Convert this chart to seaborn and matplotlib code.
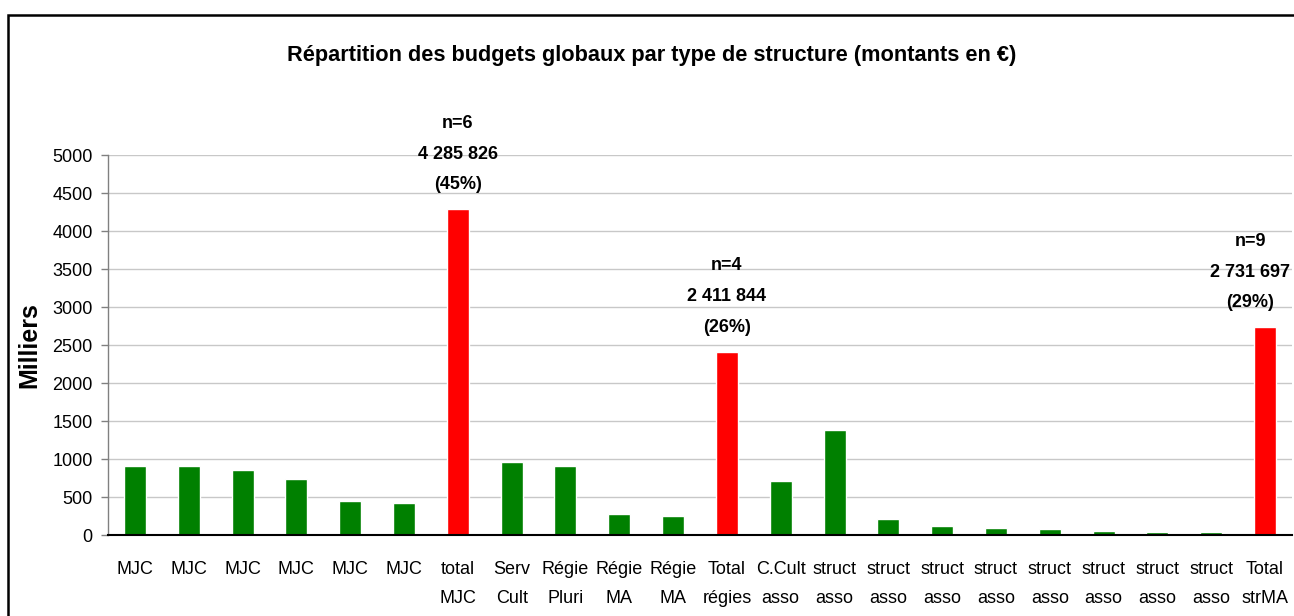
import matplotlib
matplotlib.use("Agg")
import matplotlib.pyplot as plt
import seaborn as sns
import pandas as pd
from matplotlib.patches import Rectangle

# ---- data (thousands of €) ----
labels = ["MJC", "MJC", "MJC", "MJC", "MJC", "MJC", "total\nMJC",
          "Serv\nCult", "Régie\nPluri", "Régie\nMA", "Régie\nMA", "Total\nrégies",
          "C.Cult\nasso", "struct\nasso", "struct\nasso", "struct\nasso", "struct\nasso",
          "struct\nasso", "struct\nasso", "struct\nasso", "struct\nasso", "Total\nstrMA"]
values = [912, 912, 860, 741, 452, 425, 4285.826,
          965, 912, 281, 254, 2411.844,
          715, 1380, 205, 125, 97, 84, 58, 38, 36, 2731.697]
kinds = ["detail"] * 6 + ["total"] + ["detail"] * 4 + ["total"] + ["detail"] * 9 + ["total"]
total_notes = {6: "n=6\n4 285 826\n(45%)",
               11: "n=4\n2 411 844\n(26%)",
               21: "n=9\n2 731 697\n(29%)"}
yticks = [0, 500, 1000, 1500, 2000, 2500, 3000, 3500, 4000, 4500, 5000]

df = pd.DataFrame({"pos": list(range(len(labels))), "value": values, "kind": kinds})

sns.set_theme(style="white")
plt.rcParams["font.family"] = ["Liberation Sans", "DejaVu Sans"]
plt.rcParams["text.color"] = "black"
plt.rcParams["axes.labelcolor"] = "black"
plt.rcParams["xtick.color"] = "black"
plt.rcParams["ytick.color"] = "black"

fig = plt.figure(figsize=(12.94, 6.16), dpi=100)
ax = fig.add_axes([108 / 1294, 1 - 535 / 616, 1184 / 1294, 380 / 616])

sns.barplot(data=df, x="pos", y="value", hue="kind",
            palette={"detail": "#008000", "total": "#FF0000"},
            dodge=False, width=0.41, legend=False, ax=ax, saturation=1)

ax.set_xlim(-0.5, len(labels) - 0.5)
ax.set_ylim(0, 5000)
ax.set_yticks(yticks)
ax.set_yticklabels([str(t) for t in yticks], fontsize=13)
ax.yaxis.grid(True, color="#c8c8c8", linewidth=1)
ax.set_axisbelow(True)

ax.set_xticks(range(len(labels)))
ax.set_xticklabels(labels, fontsize=13, linespacing=1.9)
ax.tick_params(axis="x", which="major", length=0, pad=19)
ax.set_xticks([i - 0.5 for i in range(len(labels) + 1)], minor=True)
ax.tick_params(axis="x", which="minor", length=7, width=1.2, color="black", direction="out")
ax.tick_params(axis="y", length=5, width=1, color="#808080", labelcolor="black",
               direction="out", pad=6, left=True)

for s in ["top", "right"]:
    ax.spines[s].set_visible(False)
ax.spines["left"].set_color("#808080")
ax.spines["left"].set_linewidth(1)
ax.spines["bottom"].set_color("black")
ax.spines["bottom"].set_linewidth(1.5)

ax.set_xlabel("")
ax.set_ylabel("Milliers", fontsize=18, fontweight="bold", labelpad=8)

for i, txt in total_notes.items():
    dx = -15 if i == len(labels) - 1 else 0
    ax.annotate(txt, xy=(i, values[i]), xytext=(dx, 16), textcoords="offset pixels",
                ha="center", va="bottom", fontsize=13, fontweight="bold",
                linespacing=2.05, annotation_clip=False)

fig.text(652 / 1294, 1 - 55 / 616,
         "Répartition des budgets globaux par type de structure (montants en €)",
         ha="center", va="center", fontsize=15.7, fontweight="bold")

frame = Rectangle((8 / 1294, -0.05), 1.1, 1 - 15 / 616 + 0.05, transform=fig.transFigure,
                  fill=False, edgecolor="black", linewidth=1.8, clip_on=False)
fig.patches.append(frame)

fig.savefig("out.png", dpi=100, facecolor="white")
